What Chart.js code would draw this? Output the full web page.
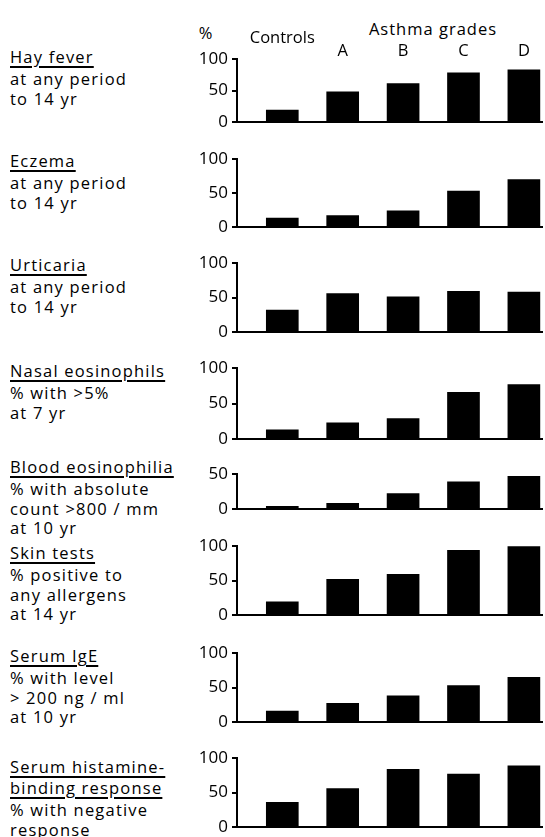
<!DOCTYPE html>
<html>
<head>
<meta charset="utf-8">
<script src="https://cdn.jsdelivr.net/npm/chart.js@4.4.1/dist/chart.umd.min.js"></script>
<style>
  html, body { margin: 0; padding: 0; background: #fff; overflow: hidden; }
  #page { position: relative; width: 545px; height: 837px; font-family: 'Open Sans', sans-serif; color: #000; }
  .lbl { position: absolute; left: 10px; font-size: 16.5px; letter-spacing: 1.2px; white-space: nowrap; }
  .lbl .tl { height: 18px; line-height: 18px; margin-bottom: 3px; }
  .lbl .tl span { text-decoration: underline; text-decoration-thickness: 1.5px; text-underline-offset: 3px; }
  .lbl .ln { height: 19.5px; line-height: 19.5px; }
  .hd { position: absolute; font-size: 16.5px; letter-spacing: 1px; white-space: nowrap; transform: translate(-50%, -50%); }
  canvas { position: absolute; }
</style>
</head>
<body>
<div id="page"></div>
<script>
// values (% of children in each group)
const groups = ['Controls', 'A', 'B', 'C', 'D'];
const hayFever = [19, 48, 61, 78, 83];
const eczema = [13, 17, 24, 53, 70];
const urticaria = [32, 56, 51, 59, 58];
const nasalEosinophils = [13, 23, 29, 66, 77];
const bloodEosinophilia = [4, 8, 22, 39, 47];
const skinTests = [19, 52, 59, 94, 100];
const serumIgE = [16, 27, 38, 53, 65];
const histamineBinding = [36, 56, 84, 77, 89];
const ticks100 = [0, 50, 100];
const ticks50 = [0, 50];

const page = document.getElementById('page');
const axisX = 237;      // x of the vertical axis
const yAxisW = 44;      // room for tick labels

const panels = [
    { data: hayFever, max: 100, ticks: ticks100, top: 59, bottom: 122, labelY: 57,
      title: ['Hay fever'], lines: ['at any period', 'to 14 yr'] },
    { data: eczema, max: 100, ticks: ticks100, top: 159, bottom: 227, labelY: 161,
      title: ['Eczema'], lines: ['at any period', 'to 14 yr'] },
    { data: urticaria, max: 100, ticks: ticks100, top: 263, bottom: 332, labelY: 265,
      title: ['Urticaria'], lines: ['at any period', 'to 14 yr'] },
    { data: nasalEosinophils, max: 100, ticks: ticks100, top: 368, bottom: 439, labelY: 371,
      title: ['Nasal eosinophils'], lines: ['% with  >5%', 'at 7 yr'] },
    { data: bloodEosinophilia, max: 50, ticks: ticks50, top: 474, bottom: 509, labelY: 467,
      title: ['Blood eosinophilia'], lines: ['% with absolute', 'count >800 / mm', 'at 10 yr'] },
    { data: skinTests, max: 100, ticks: ticks100, top: 546, bottom: 615, labelY: 553,
      title: ['Skin tests'], lines: ['% positive to', 'any allergens', 'at 14 yr'] },
    { data: serumIgE, max: 100, ticks: ticks100, top: 653, bottom: 722, labelY: 656,
      title: ['Serum IgE'], lines: ['% with level', '> 200 ng / ml', 'at 10 yr'] },
    { data: histamineBinding, max: 100, ticks: ticks100, top: 758, bottom: 827, labelY: 767,
      title: ['Serum histamine-', 'binding response'], lines: ['% with negative', 'response'] }
];

function addText(cls, html, x, y) {
    const d = document.createElement('div');
    d.className = cls;
    d.style.left = x + 'px';
    d.style.top = y + 'px';
    d.innerHTML = html;
    page.appendChild(d);
    return d;
}

// header above first panel
addText('hd', '%', 206, 32);
addText('hd', 'Asthma grades', 433, 28);

// group names drawn over the bars of the first panel
const groupLabels = {
    id: 'groupLabels',
    afterDraw(chart) {
        if (!chart.options.plugins.groupLabels.show) return;
        const ctx = chart.ctx;
        const xs = chart.scales.x;
        const off = chart.options.plugins.groupLabels.offset;
        ctx.save();
        ctx.fillStyle = '#000';
        ctx.font = '16.5px "Open Sans"';
        ctx.textAlign = 'center';
        ctx.textBaseline = 'middle';
        groups.forEach((g, i) => {
            const y = i === 0 ? 38 : 51;
            ctx.fillText(g, xs.getPixelForValue(i), y - off);
        });
        ctx.restore();
    }
};

panels.forEach((p, idx) => {
    const lbl = addText('lbl', '', 10, p.labelY - 9);
    lbl.innerHTML = p.title.map(t => '<div class="tl"><span>' + t + '</span></div>').join('') +
        p.lines.map(t => '<div class="ln">' + t + '</div>').join('');

    const padTop = idx === 0 ? p.top - 18 : 14;
    const canvasTop = p.top - padTop;
    const canvas = document.createElement('canvas');
    const left = axisX - yAxisW;
    const w = 545 - left;
    const h = (p.bottom - canvasTop) + 16;
    canvas.width = w;
    canvas.height = h;
    canvas.style.left = left + 'px';
    canvas.style.top = canvasTop + 'px';
    canvas.style.width = w + 'px';
    canvas.style.height = h + 'px';
    page.appendChild(canvas);

    new Chart(canvas.getContext('2d'), {
        type: 'bar',
        data: {
            datasets: [{
                data: p.data.map((v, i) => ({ x: i, y: v })),
                backgroundColor: '#000',
                borderWidth: 0,
                barThickness: 32
            }]
        },
        options: {
            responsive: false,
            animation: false,
            devicePixelRatio: 1,
            layout: { padding: { top: padTop, bottom: 16, left: 0, right: 3 } },
            plugins: {
                legend: { display: false },
                tooltip: { enabled: false },
                groupLabels: { show: idx === 0, offset: canvasTop }
            },
            scales: {
                x: {
                    type: 'linear',
                    offset: false,
                    min: -0.75,
                    max: 4.3,
                    ticks: { display: false },
                    grid: { display: false },
                    border: { display: true, color: '#000', width: 2 },
                    afterFit: s => { s.height = 0; }
                },
                y: {
                    min: 0,
                    max: p.max,
                    afterBuildTicks: s => { s.ticks = p.ticks.map(v => ({ value: v })); },
                    afterFit: s => { s.width = yAxisW; },
                    ticks: {
                        color: '#000',
                        padding: 4,
                        font: { family: 'Open Sans', size: 17 }
                    },
                    grid: {
                        drawOnChartArea: false,
                        drawTicks: true,
                        tickLength: 5,
                        color: '#000',
                        lineWidth: 2
                    },
                    border: { display: true, color: '#000', width: 2 }
                }
            }
        },
        plugins: [groupLabels]
    });
});
</script>
</body>
</html>
